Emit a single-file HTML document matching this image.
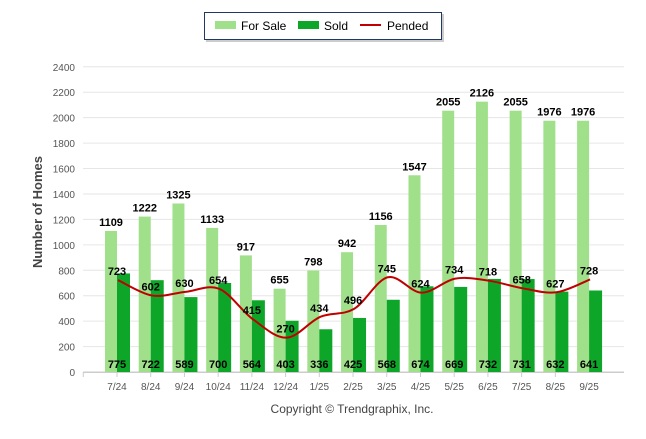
<!DOCTYPE html>
<html><head><meta charset="utf-8"><style>
body{margin:0;background:#fff;font-family:"Liberation Sans",Arial,sans-serif;}
svg text{font-family:"Liberation Sans",Arial,sans-serif;}
</style></head><body>
<svg id="c" width="646" height="434">
<rect x="206" y="14" width="238" height="28" fill="#ccc"/>
<rect x="204.5" y="12.5" width="237" height="27" fill="#fff" stroke="#1f3864"/>
<rect x="215" y="21" width="21" height="8" fill="#a0e08a"/>
<text x="241" y="30" font-size="12">For Sale</text>
<rect x="298" y="21" width="21" height="8" fill="#0ea629"/>
<text x="324" y="30" font-size="12">Sold</text>
<line x1="360" y1="25" x2="381" y2="25" stroke="#c00000" stroke-width="2"/>
<text x="387" y="30" font-size="12">Pended</text>
<text transform="translate(42,212) rotate(-90)" text-anchor="middle" font-size="13" font-weight="bold" fill="#444">Number of Homes</text>
<text x="352" y="413" text-anchor="middle" font-size="12" fill="#444">Copyright © Trendgraphix, Inc.</text>
<g id="g"></g>
</svg>
<script>
const categories=["7/24","8/24","9/24","10/24","11/24","12/24","1/25","2/25","3/25","4/25","5/25","6/25","7/25","8/25","9/25"];
const forSale=[1109,1222,1325,1133,917,655,798,942,1156,1547,2055,2126,2055,1976,1976];
const sold=[775,722,589,700,564,403,336,425,568,674,669,732,731,632,641];
const pended=[723,602,630,654,415,270,434,496,745,624,734,718,658,627,728];
const yTicks=[0,200,400,600,800,1000,1200,1400,1600,1800,2000,2200,2400];
const NS='http://www.w3.org/2000/svg';
const g=document.getElementById('g');
const X=i=>117+i*33.72;
const Y=v=>372-v*0.12717;
function mk(t,a,txt){const e=document.createElementNS(NS,t);for(const k in a)e.setAttribute(k,a[k]);if(txt!==undefined)e.textContent=txt;g.appendChild(e);return e;}
yTicks.forEach(v=>{
 const l=mk('line',{x1:83,x2:624,y1:Y(v),y2:Y(v),stroke:v?'#e6e6e6':'#ccc'});
 
 
 const t=mk('text',{x:75,y:Y(v)+4,'text-anchor':'end','font-size':10,fill:'#555'},v);
 
 
});
const ax=mk('line',{x1:83,x2:624,y1:372.5,y2:372.5,stroke:'#ccc'});


categories.forEach((c,i)=>{
 const tk=mk('line',{x1:X(i)-33.72,x2:X(i)-33.72,y1:372,y2:377,stroke:'#ccc'});
 
 
 const t=mk('text',{x:X(i),y:390,'text-anchor':'middle','font-size':10,fill:'#555'},c);
 
 
 const b1=mk('rect',{x:X(i)-12,y:Y(forSale[i]),width:12,height:372-Y(forSale[i]),fill:'#a0e08a'});
 
 
 const b2=mk('rect',{x:X(i),y:Y(sold[i]),width:13,height:372-Y(sold[i]),fill:'#0ea629'});
 
 
});
let d='';
const P=pended.map((v,i)=>[X(i)+1,Y(v)]);
P.forEach((p,i)=>{
 if(!i){d='M'+p[0]+','+p[1];return;}
 const p0=P[i-2<0?0:i-2]&&P[Math.max(i-2,0)],a=P[i-1],p3=P[Math.min(i+1,P.length-1)];
 const c1=[a[0]+(p[0]-p0[0])/6,a[1]+(p[1]-p0[1])/6],c2=[p[0]-(p3[0]-a[0])/6,p[1]-(p3[1]-a[1])/6];
 d+=' C'+c1+' '+c2+' '+p;
});
const ln=mk('path',{d:d,fill:'none',stroke:'#c00000','stroke-width':2});


categories.forEach((c,i)=>{
 const a=mk('text',{x:X(i)-6,y:Y(forSale[i])-5,'text-anchor':'middle','font-size':11,'font-weight':'bold'},forSale[i]);
 
 
 const b=mk('text',{x:X(i),y:368,'text-anchor':'middle','font-size':11,'font-weight':'bold'},sold[i]);
 
 
 const p=mk('text',{x:X(i),y:Y(pended[i])-5,'text-anchor':'middle','font-size':11,'font-weight':'bold'},pended[i]);
 
 
});
</script>
</body></html>
